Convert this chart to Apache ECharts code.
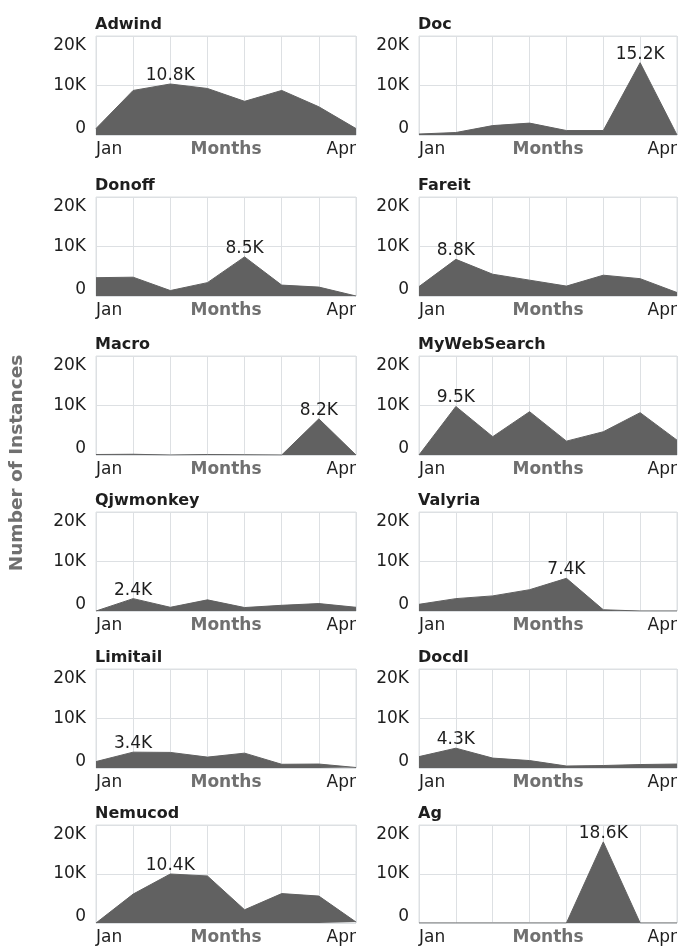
<!DOCTYPE html>
<html>
<head>
<meta charset="utf-8">
<script src="https://cdn.jsdelivr.net/npm/echarts@6/dist/echarts.min.js"></script>
<style>
  html, body { margin: 0; padding: 0; background: #fff; }
  #chart { width: 680px; height: 947px; }
</style>
</head>
<body>
<div id="chart"></div>
<script>
// x categories (only first and last are labelled)
const categories = ['Jan', 'p1', 'p2', 'p3', 'p4', 'p5', 'p6', 'Apr'];
const yTicks = [0, 10000, 20000];

// values per family
const adwind      = [1300, 9000, 10300, 9400, 6800, 9000, 5700, 1300];
const doc         = [200, 500, 1900, 2400, 900, 900, 14600, 0];
const donoff      = [3700, 3800, 1100, 2700, 7900, 2200, 1800, 0];
const fareit      = [1900, 7400, 4400, 3200, 2000, 4200, 3500, 700];
const macro       = [100, 150, 0, 100, 50, 0, 7300, 0];
const myWebSearch = [0, 9800, 3700, 8750, 2800, 4700, 8550, 3000];
const qjwmonkey   = [0, 2500, 750, 2250, 700, 1150, 1500, 750];
const valyria     = [1350, 2500, 3050, 4300, 6600, 250, 0, 0];
const limitail    = [1300, 3200, 3150, 2200, 3000, 750, 800, 100];
const docdl       = [2300, 4000, 2000, 1500, 400, 500, 700, 800];
const nemucod     = [0, 5900, 10000, 9600, 2700, 6000, 5500, 200];
const ag          = [0, 0, 0, 0, 0, 16550, 0, 0];

// peak labels as printed on the chart
const titles = ['Adwind', 'Doc', 'Donoff', 'Fareit', 'Macro', 'MyWebSearch',
                'Qjwmonkey', 'Valyria', 'Limitail', 'Docdl', 'Nemucod', 'Ag'];
const peakLabels = ['10.8K', '15.2K', '8.5K', '8.8K', '8.2K', '9.5K',
                    '2.4K', '7.4K', '3.4K', '4.3K', '10.4K', '18.6K'];
const allSeries = [adwind, doc, donoff, fareit, macro, myWebSearch,
                   qjwmonkey, valyria, limitail, docdl, nemucod, ag];

const FONT = 'DejaVu Sans';
const colLeft = [96, 419];
const rowTop = [36, 197, 356, 512, 669, 825];
const plotW = 260, plotH = 99;

const grids = [], xAxes = [], yAxes = [], series = [], titleList = [];

allSeries.forEach((vals, i) => {
  const left = colLeft[i % 2];
  const top = rowTop[Math.floor(i / 2)];
  grids.push({
    left: left, top: top, width: plotW, height: plotH,
    show: true, borderColor: '#dde0e3', borderWidth: 1, backgroundColor: '#fff'
  });
  titleList.push({
    text: titles[i], left: left - 1, top: top - 19, padding: 0,
    textStyle: { fontFamily: FONT, fontSize: 16, fontWeight: 'bold', color: '#1e1e1e' }
  });
  xAxes.push({
    gridIndex: i, type: 'category', data: categories, boundaryGap: false,
    name: 'Months', nameLocation: 'middle', nameGap: 6, nameMoveOverlap: false,
    nameTextStyle: {
      fontFamily: FONT, fontSize: 17, fontWeight: 'bold', color: '#707070',
      verticalAlign: 'top'
    },
    axisLine: { show: false }, axisTick: { show: false },
    axisLabel: {
      interval: (idx) => idx === 0 || idx === categories.length - 1,
      margin: 6, fontFamily: FONT, fontSize: 17, color: '#1e1e1e',
      alignMinLabel: 'left', alignMaxLabel: 'right'
    },
    splitLine: { show: true, interval: 0, lineStyle: { color: '#dde0e3', width: 1 } }
  });
  yAxes.push({
    gridIndex: i, type: 'value', min: yTicks[0], max: yTicks[yTicks.length - 1], interval: 10000,
    axisLine: { show: false }, axisTick: { show: false },
    axisLabel: {
      margin: 10, fontFamily: FONT, fontSize: 17, color: '#1e1e1e',
      lineHeight: 12, padding: [4, 0, 0, 0],
      formatter: v => v === 0 ? '0' : (v / 1000) + 'K',
      verticalAlignMaxLabel: 'top', verticalAlignMinLabel: 'bottom'
    },
    splitLine: { show: true, lineStyle: { color: '#dde0e3', width: 1 } }
  });
  const peak = vals.indexOf(Math.max(...vals));
  series.push({
    type: 'line', xAxisIndex: i, yAxisIndex: i,
    data: vals.map((v, k) => k === peak
      ? { value: v, label: { show: true, formatter: peakLabels[i] } }
      : v),
    symbol: 'circle', symbolSize: 0, showSymbol: true,
    lineStyle: { color: '#616161', width: 1 },
    itemStyle: { color: '#616161' },
    areaStyle: { color: '#616161', opacity: 1 },
    label: { show: false, position: 'top', distance: 0, fontFamily: FONT, fontSize: 17, color: '#1e1e1e' },
    animation: false, silent: true
  });
});

const chart = echarts.init(document.getElementById('chart'), null, { renderer: 'canvas' });
chart.setOption({
  backgroundColor: '#fff',
  animation: false,
  title: titleList,
  grid: grids,
  xAxis: xAxes,
  yAxis: yAxes,
  series: series,
  graphic: [{
    type: 'text', x: 17, y: 463, rotation: Math.PI / 2,
    style: {
      text: 'Number of Instances', fontFamily: FONT, fontSize: 18.5, fontWeight: 'bold',
      fill: '#707070', align: 'center', verticalAlign: 'middle'
    }
  }]
});
</script>
</body>
</html>
